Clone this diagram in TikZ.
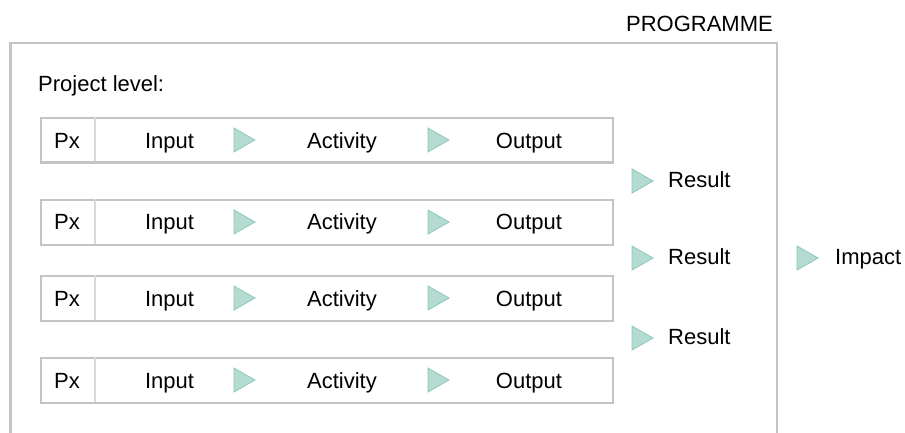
\documentclass[tikz,border=0pt]{standalone}
\usepackage{fontspec}
\setmainfont{Liberation Sans}
\definecolor{frame}{HTML}{C4C4C4}
\definecolor{divider}{HTML}{D9D9D9}
\definecolor{trifill}{HTML}{B3DBD2}
\definecolor{triedge}{HTML}{8CC7B9}
\begin{document}
\begin{tikzpicture}[x=1pt,y=-1pt,
  lbl/.style={font=\fontsize{22}{26}\selectfont, inner sep=0pt, anchor=base},
  lblw/.style={lbl, anchor=base west},
  rowbox/.style={draw=frame, line width=2.2pt, minimum width=572.5pt, minimum height=44.5pt, inner sep=0pt, anchor=north west},
  pics/tri/.style={code={\draw[fill=trifill, draw=triedge, line width=0.8pt] (0,-12) -- (21,0) -- (0,12) -- cycle;}}
]
\useasboundingbox (0,0) rectangle (905,433);
% outer programme frame (open at bottom)
\coordinate (fbl) at (10.5,434);
\coordinate (ftl) at (10.5,43);
\coordinate (ftr) at (777,43);
\coordinate (fbr) at (777,434);
\draw[frame, line width=2.5pt] (fbl) -- (ftl) -- (ftr) -- (fbr);
\node[lbl, anchor=base east] (prog) at (773,32) {PROGRAMME};
\node[lblw] (plevel) at (38,92) {Project level:};
% rows
\foreach \i/\top/\base in {1/117/148.5, 2/199/229.5, 3/275/306, 4/357/388.5}{
  \node[rowbox] (row\i) at (39.5,\top) {};
  \coordinate (dt\i) at (95,\top);
  \coordinate (db\i) at (95,\top+44.5);
  \draw[divider, line width=1.5pt] (dt\i) -- (db\i);
  \node[lbl] (px\i) at (67,\base) {Px};
  \node[lbl] (in\i) at (169.5,\base) {Input};
  \node[lbl] (act\i) at (342,\base) {Activity};
  \node[lbl] (out\i) at (529,\base) {Output};
  \pic at (234,\top+23) {tri};
  \pic at (428,\top+23) {tri};
}
% results
\foreach \j/\yc in {1/181, 2/258, 3/338}{
  \pic at (632,\yc) {tri};
  \node[lblw] (res\j) at (668,\yc+6.5) {Result};
}
\pic at (797,258) {tri};
\node[lblw] (impact) at (835,264.5) {Impact};
\end{tikzpicture}
\end{document}
